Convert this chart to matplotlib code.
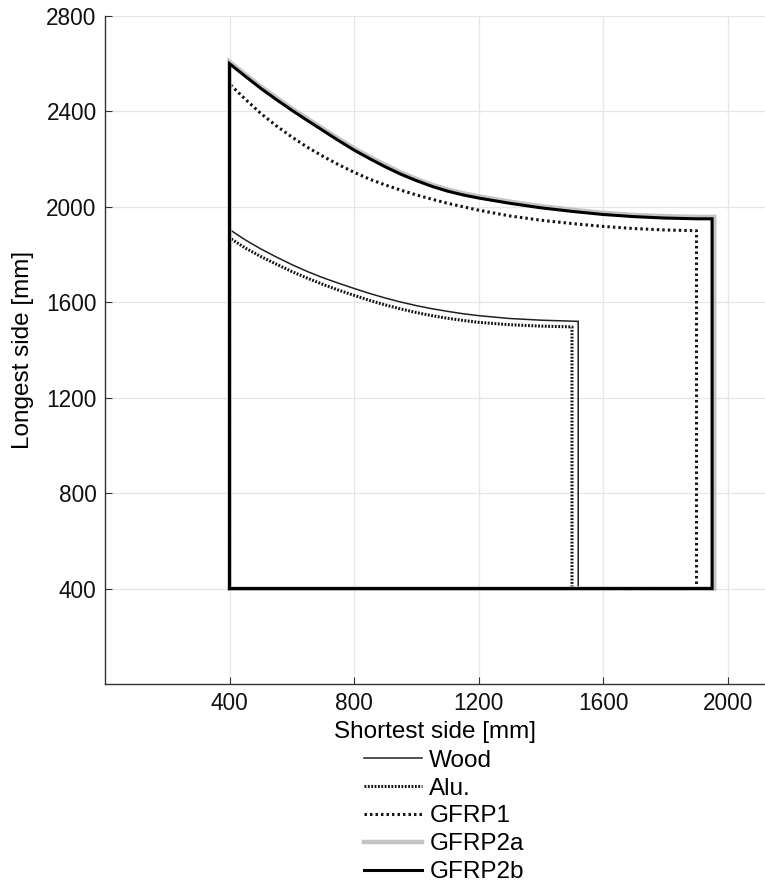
import matplotlib
matplotlib.use("Agg")
import matplotlib.pyplot as plt

plt.rcParams['font.family'] = ['Liberation Sans', 'DejaVu Sans']

# Minimum side (start of every outline)
base = 400

# Curves (shortest side x, longest side y) [mm]
wood_x = [400, 450, 500, 550, 600, 650, 700, 750, 800, 850, 900, 950, 1000, 1050, 1100, 1150, 1200, 1300, 1400, 1520]
wood_y = [1905, 1862, 1824, 1790, 1758, 1729, 1703, 1680, 1658, 1637, 1618, 1601, 1586, 1573, 1562, 1552, 1544, 1532, 1525, 1520]

alu_x = [400, 450, 500, 550, 600, 650, 700, 750, 800, 850, 900, 950, 1000, 1050, 1100, 1150, 1200, 1300, 1400, 1500]
alu_y = [1870, 1828, 1792, 1760, 1729, 1701, 1675, 1651, 1629, 1608, 1589, 1572, 1557, 1544, 1533, 1524, 1516, 1506, 1500, 1497]

gfrp1_x = [400, 450, 500, 550, 600, 650, 700, 750, 800, 850, 900, 950, 1000, 1050, 1100, 1200, 1300, 1400, 1500, 1600, 1700, 1800, 1900]
gfrp1_y = [2515, 2452, 2392, 2340, 2293, 2250, 2212, 2177, 2145, 2116, 2092, 2070, 2050, 2032, 2015, 1986, 1962, 1944, 1930, 1918, 1909, 1903, 1900]

gfrp2a_x = [400, 450, 500, 550, 600, 650, 700, 750, 800, 850, 900, 950, 1000, 1050, 1100, 1150, 1200, 1300, 1400, 1500, 1600, 1700, 1800, 1900, 1957]
gfrp2a_y = [2608, 2556, 2505, 2458, 2413, 2370, 2328, 2286, 2246, 2210, 2176, 2145, 2117, 2093, 2073, 2057, 2044, 2022, 2003, 1988, 1975, 1966, 1961, 1958, 1958]

gfrp2b_x = [400, 450, 500, 550, 600, 650, 700, 750, 800, 850, 900, 950, 1000, 1050, 1100, 1150, 1200, 1300, 1400, 1500, 1600, 1700, 1800, 1900, 1950]
gfrp2b_y = [2600, 2548, 2497, 2450, 2405, 2362, 2320, 2278, 2238, 2202, 2168, 2137, 2110, 2086, 2066, 2050, 2037, 2015, 1996, 1981, 1968, 1959, 1953, 1950, 1950]

labels = ['Wood', 'Alu.', 'GFRP1', 'GFRP2a', 'GFRP2b']
x_ticks = [400, 800, 1200, 1600, 2000]
y_ticks = [400, 800, 1200, 1600, 2000, 2400, 2800]

styles = [
    dict(color='#202020', lw=1.1, ls='-'),
    dict(color='#151515', lw=2.2, ls=(0, (0.6, 0.5))),
    dict(color='#151515', lw=2.2, ls=(0, (0.8, 1.0))),
    dict(color='#c4c4c4', lw=3.2, ls='-'),
    dict(color='#000000', lw=2.2, ls='-'),
]

series = [(wood_x, wood_y), (alu_x, alu_y), (gfrp1_x, gfrp1_y),
          (gfrp2a_x, gfrp2a_y), (gfrp2b_x, gfrp2b_y)]

fig = plt.figure(figsize=(7.65, 8.86), dpi=100)
ax = fig.add_axes([105/765, 1-684/886, 1-105/765, (684-16)/886])

for (cx, cy), st, lab in zip(series, styles, labels):
    px = [base] + list(cx) + [cx[-1], base]
    py = [base] + list(cy) + [base, base]
    ax.plot(px, py, label=lab, solid_joinstyle='miter', **st)

ax.set_xlim(0, 2120)
ax.set_ylim(0, 2800)
ax.set_xticks(x_ticks)
ax.set_yticks(y_ticks)
ax.grid(True, color='#e6e6e6', lw=0.9)
ax.set_axisbelow(True)
for s in ['top', 'right']:
    ax.spines[s].set_visible(False)
for s in ['left', 'bottom']:
    ax.spines[s].set_color('#333333')
    ax.spines[s].set_linewidth(1.0)
ax.tick_params(direction='in', length=5, labelsize=16.3, colors='#333333',
               labelcolor='#111111', pad=6)
ax.set_xlabel('Shortest side [mm]', fontsize=17.5, labelpad=4)
ax.set_ylabel('Longest side [mm]', fontsize=17.5, labelpad=9)

leg = fig.legend(loc='upper left', bbox_to_anchor=(354/765, 1-740/886),
                 frameon=False, fontsize=17.5, handlelength=2.4,
                 handletextpad=0.3, labelspacing=0.24, borderaxespad=0)

fig.savefig('out.png', dpi=100)
